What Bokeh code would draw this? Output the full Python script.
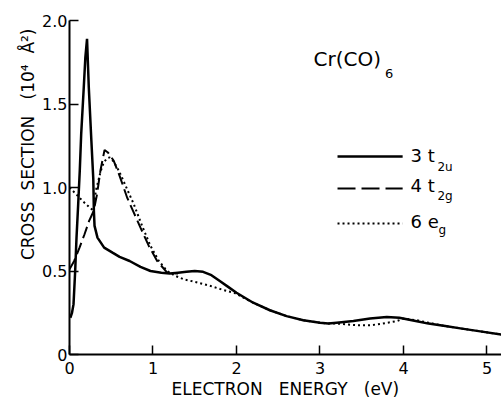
from bokeh.plotting import figure
from bokeh.models import Label, FixedTicker, Title
from bokeh.embed import file_html
from bokeh.resources import INLINE

# ---- data ----
energy_3t2u = [0.01, 0.03, 0.048, 0.068, 0.084, 0.104, 0.123, 0.14, 0.171, 0.19,
               0.21, 0.231, 0.262, 0.285, 0.292, 0.30, 0.335, 0.415, 0.515, 0.60,
               0.72, 0.85, 0.97, 1.10, 1.20, 1.30, 1.40, 1.50, 1.60, 1.70,
               1.80, 1.90, 2.00, 2.20, 2.40, 2.60, 2.80, 3.00, 3.10, 3.20,
               3.40, 3.60, 3.80, 3.95, 4.10, 4.30, 4.50, 4.70, 4.90, 5.17]
xsec_3t2u = [0.22, 0.25, 0.30, 0.50, 0.70, 0.90, 1.10, 1.32, 1.60, 1.78,
             1.89, 1.60, 1.28, 1.05, 0.86, 0.77, 0.70, 0.64, 0.61, 0.585,
             0.56, 0.525, 0.50, 0.49, 0.485, 0.49, 0.495, 0.50, 0.495, 0.475,
             0.44, 0.405, 0.37, 0.31, 0.265, 0.23, 0.205, 0.19, 0.185, 0.19,
             0.20, 0.215, 0.225, 0.22, 0.205, 0.185, 0.17, 0.155, 0.14, 0.12]

energy_4t2g = [0.00, 0.056, 0.12, 0.18, 0.235, 0.29, 0.33, 0.37, 0.42, 0.46,
               0.53, 0.60, 0.69, 0.77, 0.85, 0.95, 1.05, 1.17, 1.30]
xsec_4t2g = [0.51, 0.56, 0.64, 0.72, 0.80, 0.86, 0.96, 1.10, 1.225, 1.21,
             1.16, 1.07, 0.94, 0.85, 0.76, 0.65, 0.56, 0.49, 0.485]

energy_6eg = [0.00, 0.08, 0.155, 0.22, 0.29, 0.315, 0.345, 0.375, 0.41, 0.45,
              0.48, 0.52, 0.57, 0.61, 0.69, 0.77, 0.87, 0.97, 1.07, 1.17,
              1.27, 1.37, 1.50, 1.69, 1.85, 1.97, 2.20, 2.40, 2.60, 2.80,
              3.00, 3.10, 3.20, 3.33, 3.45, 3.60, 3.75, 3.92, 4.00, 4.16,
              4.30, 4.50, 4.70, 4.90, 5.17]
xsec_6eg = [1.00, 0.96, 0.92, 0.89, 0.86, 0.98, 1.04, 1.10, 1.15, 1.175,
            1.18, 1.16, 1.12, 1.08, 0.99, 0.90, 0.77, 0.65, 0.56, 0.50,
            0.47, 0.45, 0.435, 0.41, 0.385, 0.37, 0.31, 0.265, 0.23, 0.205,
            0.19, 0.185, 0.185, 0.18, 0.175, 0.175, 0.185, 0.20, 0.215, 0.205,
            0.19, 0.17, 0.155, 0.14, 0.12]

x_ticks = [0, 1, 2, 3, 4, 5]
y_ticks = [0, 0.5, 1.0, 1.5, 2.0]
y_tick_labels = ["0", "0.5", "1.0", "1.5", "2.0"]

NB = "\u00a0"
y_title = "CROSS" + NB * 2 + "SECTION" + NB * 3 + "(10⁴" + NB * 2 + "Å²)"
x_title = "ELECTRON" + NB * 3 + "ENERGY" + NB * 3 + "(eV)"

FONT = "DejaVu Sans"

p = figure(width=501, height=401, output_backend="svg", toolbar_location=None,
           x_range=(0, 5.174), y_range=(0, 2.0),
           min_border_left=69, min_border_right=0, min_border_top=20,
           min_border_bottom=47)
p.outline_line_color = None
p.grid.visible = False
p.background_fill_color = "white"
p.border_fill_color = "white"

for ax in (p.xaxis[0], p.yaxis[0]):
    ax.axis_line_width = 2
    ax.axis_line_color = "black"
    ax.major_tick_in = 9
    ax.major_tick_out = 0
    ax.major_tick_line_width = 1.5
    ax.major_tick_line_color = "black"
    ax.minor_tick_line_color = None
    ax.major_label_text_font = FONT
    ax.major_label_text_font_size = "16px"
    ax.major_label_text_color = "black"

p.xaxis.ticker = FixedTicker(ticks=x_ticks)
p.xaxis.major_label_standoff = 7
p.yaxis.ticker = FixedTicker(ticks=y_ticks)
p.yaxis.major_label_overrides = {t: s for t, s in zip(y_ticks, y_tick_labels)}
p.yaxis.major_label_standoff = 2

# axis titles as side titles (allow offset along the axis)
p.add_layout(Title(text=y_title, align="right", offset=8,
                   standoff=4, text_font=FONT, text_font_size="17px",
                   text_font_style="normal", text_color="black"), "left")
p.add_layout(Title(text=x_title, align="left", offset=102,
                   standoff=0, text_font=FONT, text_font_size="17px",
                   text_font_style="normal", text_color="black"), "below")

# curves
p.line(energy_3t2u, xsec_3t2u, line_color="black", line_width=2.5)
p.line(energy_4t2g, xsec_4t2g, line_color="black", line_width=2, line_dash="12 5")
p.line(energy_6eg, xsec_6eg, line_color="black", line_width=2, line_dash="2 3")

# legend
p.line([3.21, 3.99], [1.186, 1.186], line_color="black", line_width=2.5)
p.line([3.21, 3.99], [0.994, 0.994], line_color="black", line_width=2, line_dash="18 6")
p.line([3.21, 3.99], [0.784, 0.784], line_color="black", line_width=2, line_dash="2 3")

def lab(x, y, text, size, **kw):
    p.add_layout(Label(x=x, y=y, text=text, text_font=FONT, text_font_size=size,
                       text_color="black", **kw))

lab(4.084, 1.126, "3 t", "18px")
lab(4.407, 1.080, "2u", "12px")
lab(4.084, 0.952, "4 t", "18px")
lab(4.407, 0.906, "2g", "12px")
lab(4.084, 0.732, "6 e", "18px")
lab(4.42, 0.703, "g", "12px")

lab(2.922, 1.70, "Cr(CO)", "20px")
lab(3.78, 1.655, "6", "13px")

open("out.html", "w").write(file_html(p, INLINE))
